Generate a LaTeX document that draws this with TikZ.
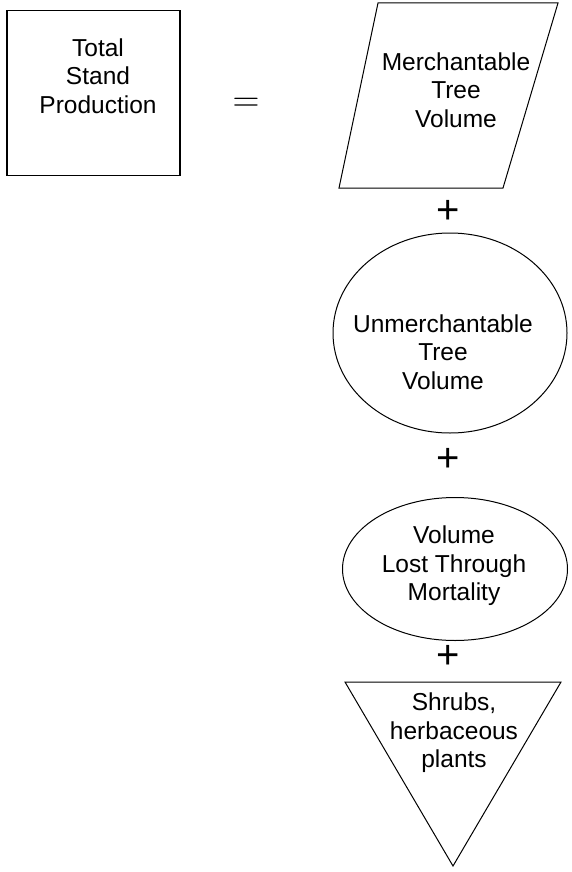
\documentclass[tikz,border=0pt]{standalone}
\usepackage{fontspec}
\setmainfont{Liberation Sans}
\usepackage{tikz}
\usetikzlibrary{shapes.geometric}

\begin{document}
\begin{tikzpicture}[x=1pt,y=-1pt,line width=1pt,
  txt/.style={align=center,inner sep=0pt,font=\fontsize{24.5}{28.5}\selectfont},
  plus/.style={inner sep=0pt,font=\fontsize{40}{42}\selectfont}]
\useasboundingbox (0,0) rectangle (572,872);
% left hand side
\node[draw,line width=1.3pt,minimum width=173pt,minimum height=165pt,inner sep=0pt] (total) at (93.5,93) {};
\node[txt] (totaltxt) at (98,76) {Total\\Stand\\Production};
\node[inner sep=0pt,scale=1.5,font=\fontsize{24}{26}\selectfont] (eq) at (246,104.5) {$=$};
% merchantable volume
\coordinate (m1) at (378,3); \coordinate (m2) at (558,3);
\coordinate (m3) at (503,188); \coordinate (m4) at (339,188);
\draw (m1) -- (m2) -- (m3) -- (m4) -- cycle;
\node[txt] (merch) at (456,90) {Merchantable\\Tree\\Volume};
\node[plus] (p1) at (448,212) {+};
% unmerchantable volume
\node[draw,ellipse,minimum width=234pt,minimum height=200pt,inner sep=0pt] (unm) at (450,333) {};
\node[txt] (unmtxt) at (443,352) {Unmerchantable\\Tree\\Volume};
\node[plus] (p2) at (448,460) {+};
% mortality
\node[draw,ellipse,minimum width=225pt,minimum height=143pt,inner sep=0pt] (mort) at (455,569) {};
\node[txt] (morttxt) at (454,566) {Volume\\Lost Through\\Mortality};
\node[plus] (p3) at (448,657) {+};
% shrubs
\coordinate (s1) at (345,682); \coordinate (s2) at (561,682);
\coordinate (s3) at (453,866);
\draw (s1) -- (s2) -- (s3) -- cycle;
\node[txt] (shrub) at (454,733) {Shrubs,\\herbaceous\\plants};
\end{tikzpicture}
\end{document}
